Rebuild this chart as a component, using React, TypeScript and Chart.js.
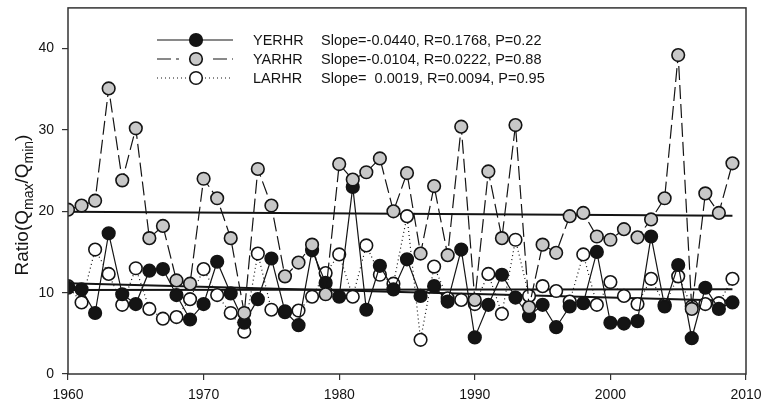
import { useEffect, useRef } from "react";
import { Chart, registerables } from "chart.js";

Chart.register(...registerables);

// Years of record
const years = [
  1960, 1961, 1962, 1963, 1964, 1965, 1966, 1967, 1968, 1969,
  1970, 1971, 1972, 1973, 1974, 1975, 1976, 1977, 1978, 1979,
  1980, 1981, 1982, 1983, 1984, 1985, 1986, 1987, 1988, 1989,
  1990, 1991, 1992, 1993, 1994, 1995, 1996, 1997, 1998, 1999,
  2000, 2001, 2002, 2003, 2004, 2005, 2006, 2007, 2008, 2009,
];

// Qmax/Qmin ratios per station
const yerhr = [
  10.6, 10.4, 7.5, 17.3, 9.8, 8.6, 12.7, 12.9, 9.7, 6.7,
  8.6, 13.8, 9.9, 6.3, 9.2, 14.2, 7.7, 6.0, 15.2, 11.2,
  9.5, 23.0, 7.9, 13.3, 10.4, 14.1, 9.6, 10.8, 8.9, 15.3,
  4.5, 8.5, 12.2, 9.4, 7.1, 8.5, 5.75, 8.3, 8.7, 15.0,
  6.3, 6.2, 6.5, 16.9, 8.3, 13.4, 4.4, 10.6, 8.0, 8.8,
];
const yarhr = [
  20.2, 20.7, 21.3, 35.1, 23.8, 30.2, 16.7, 18.2, 11.5, 11.1,
  24.0, 21.6, 16.7, 7.5, 25.2, 20.7, 12.0, 13.7, 15.9, 9.8,
  25.8, 23.9, 24.8, 26.5, 20.0, 24.7, 14.8, 23.1, 14.6, 30.4,
  9.1, 24.9, 16.7, 30.6, 8.2, 15.9, 14.9, 19.4, 19.8, 16.9,
  16.5, 17.8, 16.8, 19.0, 21.6, 39.2, 8.0, 22.2, 19.8, 25.9,
];
const larhr = [
  10.8, 8.8, 15.3, 12.3, 8.5, 13.0, 8.0, 6.8, 7.0, 9.2,
  12.9, 9.7, 7.5, 5.2, 14.8, 7.9, 7.6, 7.8, 9.5, 12.4,
  14.7, 9.5, 15.8, 12.2, 11.1, 19.4, 4.2, 13.2, 9.3, 9.1,
  8.6, 12.3, 7.4, 16.5, 9.6, 10.8, 10.2, 8.9, 14.7, 8.5,
  11.3, 9.6, 8.6, 11.7, 8.5, 12.0, 8.3, 8.6, 8.7, 11.7,
];

// Linear trend statistics (YERHR, YARHR, LARHR)
const seriesNames = ["YERHR", "YARHR", "LARHR"];
const slopes = [-0.044, -0.0104, 0.0019];
const slopeLabels = ["-0.0440", "-0.0104", "  0.0019"];
const rLabels = ["0.1768", "0.0222", "0.0094"];
const pLabels = ["0.22", "0.88", "0.95"];
const trendStart = [11.15, 19.95, 10.33];

const xTicks = [1960, 1970, 1980, 1990, 2000, 2010];
const yTicks = [0, 10, 20, 30, 40];

const FONT = "'Liberation Sans', Arial, Helvetica, sans-serif";
const INK = "#141414";
const markerFills = ["#141414", "#c8c8c8", "#ffffff"];
const lineDashes: number[][] = [[], [14, 5], [1, 3]];

const toPoints = (vals: number[]) => vals.map((v, i) => ({ x: years[i], y: v }));

function trendPoints(k: number) {
  const x0 = years[0];
  const x1 = years[years.length - 1];
  return [
    { x: x0, y: trendStart[k] },
    { x: x1, y: trendStart[k] + slopes[k] * (x1 - x0) },
  ];
}

function drawMarker(ctx: CanvasRenderingContext2D, x: number, y: number, fill: string) {
  ctx.beginPath();
  ctx.arc(x, y, 6.3, 0, Math.PI * 2);
  ctx.fillStyle = fill;
  ctx.fill();
  ctx.lineWidth = 1.6;
  ctx.strokeStyle = INK;
  ctx.setLineDash([]);
  ctx.stroke();
}

const framePlugin = {
  id: "frame",
  afterDatasetsDraw(chart: any) {
    const { ctx, chartArea } = chart;
    ctx.save();
    ctx.strokeStyle = "#333";
    ctx.lineWidth = 1.5;
    ctx.strokeRect(chartArea.left, chartArea.top, chartArea.right - chartArea.left, chartArea.bottom - chartArea.top);
    ctx.restore();
  },
};

// Vertical axis title with subscripts: Ratio(Qmax/Qmin)
const yTitlePlugin = {
  id: "yTitle",
  afterDraw(chart: any) {
    const { ctx } = chart;
    const parts: [string, number, number][] = [
      ["Ratio(Q", 19, 0],
      ["max", 14, 4.5],
      ["/Q", 19, 0],
      ["min", 14, 4.5],
      [")", 19, 0],
    ];
    ctx.save();
    let total = 0;
    for (const [t, s] of parts) {
      ctx.font = `${s}px ${FONT}`;
      total += ctx.measureText(t).width;
    }
    ctx.translate(28, 205);
    ctx.rotate(-Math.PI / 2);
    ctx.fillStyle = INK;
    ctx.textBaseline = "alphabetic";
    ctx.textAlign = "left";
    let x = -total / 2;
    for (const [t, s, dy] of parts) {
      ctx.font = `${s}px ${FONT}`;
      ctx.fillText(t, x, dy);
      x += ctx.measureText(t).width;
    }
    ctx.restore();
  },
};

const legendPlugin = {
  id: "statsLegend",
  afterDraw(chart: any) {
    const { ctx } = chart;
    const x0 = 157;
    const x1 = 233;
    const xm = 196;
    const rowY = [40, 59, 78];
    ctx.save();
    for (let k = 0; k < 3; k++) {
      const y = rowY[k];
      ctx.strokeStyle = INK;
      ctx.lineWidth = 1.2;
      ctx.setLineDash(lineDashes[k]);
      ctx.beginPath();
      if (k === 1) {
        ctx.moveTo(x0, y);
        ctx.lineTo(xm - 17, y);
        ctx.moveTo(xm + 17, y);
        ctx.lineTo(x1, y);
      } else {
        ctx.moveTo(x0, y);
        ctx.lineTo(x1, y);
      }
      ctx.stroke();
      drawMarker(ctx, xm, y, markerFills[k]);
      ctx.setLineDash([]);
      ctx.fillStyle = INK;
      ctx.font = `14.5px ${FONT}`;
      ctx.textBaseline = "middle";
      ctx.textAlign = "left";
      ctx.fillText(seriesNames[k], 253, y + 1);
      ctx.fillText(`Slope=${slopeLabels[k]}, R=${rLabels[k]}, P=${pLabels[k]}`, 321, y + 1);
    }
    ctx.restore();
  },
};

function seriesDataset(label: string, vals: number[], k: number, order: number) {
  return {
    label,
    data: toPoints(vals),
    borderColor: INK,
    borderWidth: 1.2,
    borderDash: lineDashes[k],
    pointRadius: 6.3,
    pointBorderWidth: 1.6,
    pointBorderColor: INK,
    pointBackgroundColor: markerFills[k],
    pointHoverRadius: 6.3,
    fill: false,
    tension: 0,
    order,
  };
}

function trendDataset(k: number, order: number) {
  return {
    label: `${seriesNames[k]} trend`,
    data: trendPoints(k),
    borderColor: INK,
    borderWidth: 2,
    pointRadius: 0,
    fill: false,
    order,
  };
}

export default function App() {
  const canvasRef = useRef<HTMLCanvasElement | null>(null);

  useEffect(() => {
    if (!canvasRef.current) return;
    const chart = new Chart(canvasRef.current, {
      type: "line",
      data: {
        datasets: [
          seriesDataset("YARHR", yarhr, 1, 1),
          seriesDataset("YERHR", yerhr, 0, 2),
          seriesDataset("LARHR", larhr, 2, 3),
          trendDataset(0, 4),
          trendDataset(1, 5),
          trendDataset(2, 6),
        ] as any,
      },
      options: {
        animation: false,
        responsive: false,
        devicePixelRatio: 1,
        layout: { padding: { left: 0, top: 7, right: 19, bottom: 0 } },
        plugins: {
          legend: { display: false },
          tooltip: { enabled: false },
          title: { display: false },
        },
        scales: {
          x: {
            type: "linear",
            min: 1960,
            max: 2010,
            afterBuildTicks: (scale: any) => {
              scale.ticks = xTicks.map((v) => ({ value: v }));
            },
            afterFit: (scale: any) => {
              scale.height = 33;
              scale.paddingLeft = 0;
              scale.paddingRight = 0;
            },
            ticks: {
              autoSkip: false,
              maxRotation: 0,
              padding: 7,
              color: INK,
              font: { family: FONT, size: 14 },
              callback: (v: any) => String(v),
            },
            grid: {
              drawOnChartArea: false,
              drawTicks: true,
              tickLength: 6,
              color: "#333",
              lineWidth: 1.2,
            },
            border: { display: false },
          },
          y: {
            type: "linear",
            min: 0,
            max: 45,
            afterBuildTicks: (scale: any) => {
              scale.ticks = yTicks.map((v) => ({ value: v }));
            },
            afterFit: (scale: any) => {
              scale.width = 68;
              scale.paddingTop = 0;
              scale.paddingBottom = 0;
            },
            ticks: {
              padding: 8,
              color: INK,
              font: { family: FONT, size: 14 },
              callback: (v: any) => String(v),
            },
            grid: {
              drawOnChartArea: false,
              drawTicks: true,
              tickLength: 6,
              color: "#333",
              lineWidth: 1.2,
            },
            border: { display: false },
          },
        },
      } as any,
      plugins: [framePlugin, yTitlePlugin, legendPlugin],
    });
    return () => chart.destroy();
  }, []);

  return (
    <div style={{ position: "absolute", left: 0, top: 0, width: 765, height: 407, background: "#fff" }}>
      <canvas ref={canvasRef} width={765} height={407} style={{ display: "block" }} />
    </div>
  );
}
